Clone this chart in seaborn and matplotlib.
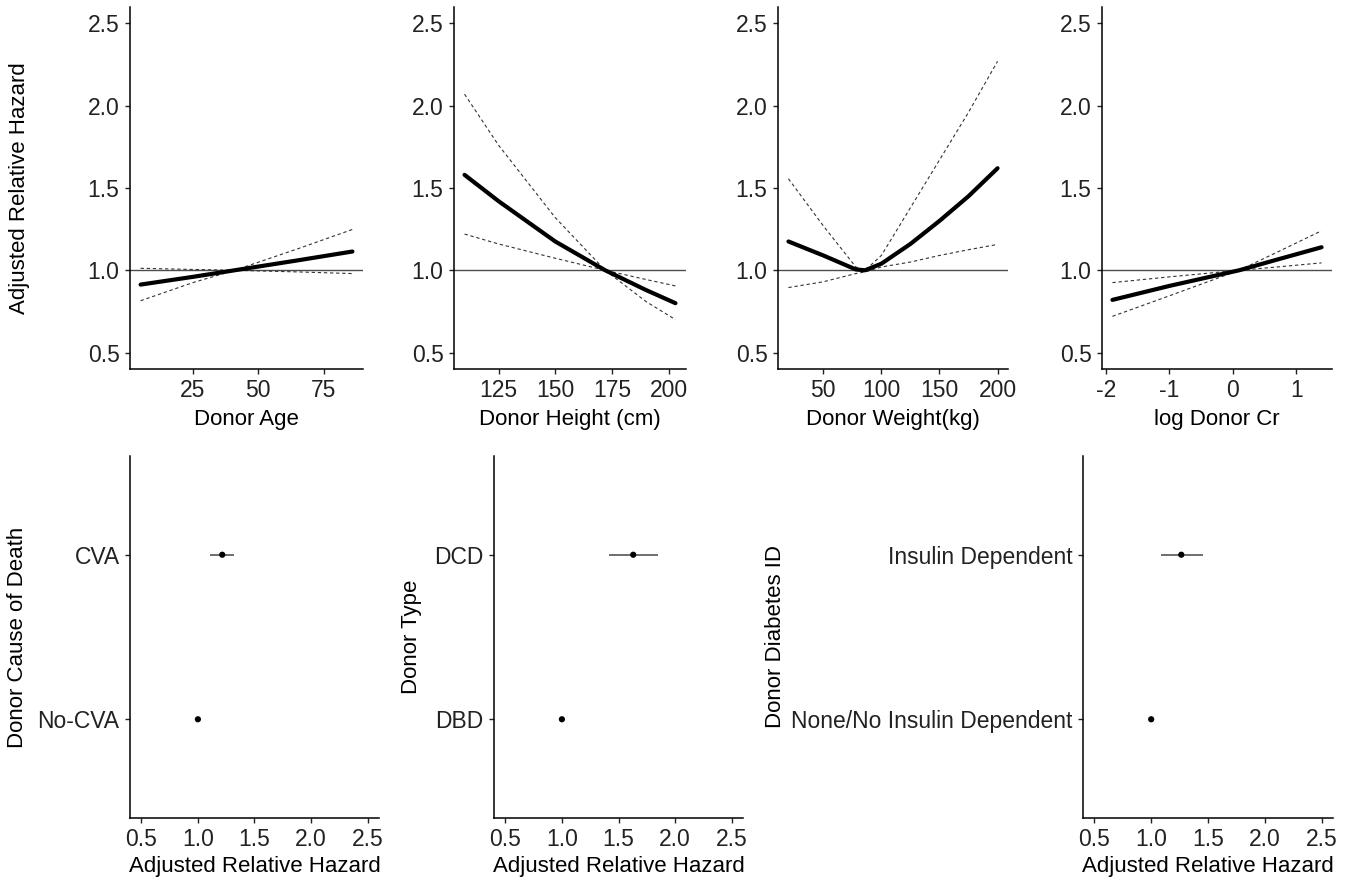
import numpy as np
import pandas as pd
import matplotlib
matplotlib.use("Agg")
import matplotlib.pyplot as plt
import seaborn as sns

# spline curves (hazard ratio with two dashed confidence lines)
age_x = [5, 25, 41, 65, 86]
age_hr = [0.913, 0.96, 1.0, 1.06, 1.114]
age_ci_a = [0.815, 0.925, 1.0, 1.13, 1.248]
age_ci_b = [1.012, 1.005, 1.0, 0.99, 0.98]

height_x = [110, 125, 150, 172, 190, 203]
height_hr = [1.58, 1.42, 1.175, 1.0, 0.88, 0.80]
height_ci_a = [2.07, 1.76, 1.32, 1.0, 0.81, 0.70]
height_ci_b = [1.22, 1.16, 1.073, 1.0, 0.944, 0.905]

weight_x = [20, 50, 78, 86, 100, 125, 150, 175, 200]
weight_hr = [1.175, 1.09, 1.005, 1.0, 1.04, 1.16, 1.30, 1.45, 1.62]
weight_ci_a = [1.556, 1.27, 1.02, 1.0, 1.09, 1.38, 1.67, 1.96, 2.27]
weight_ci_b = [0.895, 0.93, 0.98, 0.99, 1.02, 1.05, 1.09, 1.125, 1.157]

cr_x = [-1.9, -1.0, 0.1, 0.7, 1.4]
cr_hr = [0.82, 0.905, 1.0, 1.065, 1.14]
cr_ci_a = [0.72, 0.845, 1.0, 1.11, 1.24]
cr_ci_b = [0.925, 0.96, 1.0, 1.02, 1.045]

# categorical effects (reference level first)
cod_levels = ["No-CVA", "CVA"]
cod_hr = [1.0, 1.215]
cod_lo = [1.0, 1.11]
cod_hi = [1.0, 1.32]

type_levels = ["DBD", "DCD"]
type_hr = [1.0, 1.63]
type_lo = [1.0, 1.42]
type_hi = [1.0, 1.85]

diab_levels = ["None/No Insulin Dependent", "Insulin Dependent"]
diab_hr = [1.0, 1.265]
diab_lo = [1.0, 1.09]
diab_hi = [1.0, 1.46]

sns.set_theme(style="ticks")
plt.rcParams['font.family'] = ['Liberation Sans', 'DejaVu Sans']
plt.rcParams['axes.unicode_minus'] = False
plt.rcParams['axes.linewidth'] = 1.1
plt.rcParams['xtick.major.width'] = 1.0
plt.rcParams['ytick.major.width'] = 1.0
plt.rcParams['xtick.major.size'] = 3.5
plt.rcParams['ytick.major.size'] = 3.5

W, H = 1352, 881
fig = plt.figure(figsize=(W / 100, H / 100), dpi=100)

TICK_FS = 16.5
TITLE_FS = 16


def add_ax(l, r, t, b):
    return fig.add_axes([l / W, 1 - b / H, (r - l) / W, (b - t) / H])


def style_ax(ax):
    sns.despine(ax=ax)
    ax.tick_params(labelsize=TICK_FS, colors='#222222', labelcolor='#222222', pad=4)
    ax.spines['left'].set_color('black')
    ax.spines['bottom'].set_color('black')


top_panels = [
    (130, 363, age_x, age_hr, age_ci_a, age_ci_b, "Donor Age", [25, 50, 75]),
    (454, 686, height_x, height_hr, height_ci_a, height_ci_b, "Donor Height (cm)", [125, 150, 175, 200]),
    (778, 1008, weight_x, weight_hr, weight_ci_a, weight_ci_b, "Donor Weight(kg)", [50, 100, 150, 200]),
    (1102, 1332, cr_x, cr_hr, cr_ci_a, cr_ci_b, "log Donor Cr", [-2, -1, 0, 1]),
]

for i, (l, r, x, hr, ca, cb, xlab, xt) in enumerate(top_panels):
    ax = add_ax(l, r, 7, 369)
    ax.axhline(1.0, color='#4d4d4d', lw=1.0, zorder=1)
    for ci in (ca, cb):
        sns.lineplot(x=x, y=ci, ax=ax, color='#333333', lw=0.8,
                     linestyle=(0, (3, 2.5)), zorder=2)
    sns.lineplot(x=x, y=hr, ax=ax, color='black', lw=3, zorder=3)
    span = max(x) - min(x)
    ax.set_xlim(min(x) - 0.05 * span, max(x) + 0.05 * span)
    ax.set_ylim(0.4, 2.6)
    ax.set_xticks(xt)
    ax.set_yticks([0.5, 1.0, 1.5, 2.0, 2.5])
    ax.set_yticklabels(["0.5", "1.0", "1.5", "2.0", "2.5"])
    ax.set_xlabel(xlab, fontsize=TITLE_FS, color='black', labelpad=5)
    if i == 0:
        ax.set_ylabel("Adjusted Relative Hazard", fontsize=TITLE_FS, color='black')
        ax.yaxis.set_label_coords(-0.429, 0.5)
    else:
        ax.set_ylabel("")
    style_ax(ax)

bottom_panels = [
    (130, 379, cod_levels, cod_hr, cod_lo, cod_hi, "Donor Cause of Death", -0.41),
    (494, 743, type_levels, type_hr, type_lo, type_hi, "Donor Type", -0.289),
    (1083, 1333, diab_levels, diab_hr, diab_lo, diab_hi, "Donor Diabetes ID", -1.188),
]

for l, r, levels, hr, lo, hi, ylab, ylx in bottom_panels:
    ax = add_ax(l, r, 456, 818)
    df = pd.DataFrame({"level": levels, "hr": hr, "lo": lo, "hi": hi})
    ax.hlines(df["level"], df["lo"], df["hi"], color='#555555', lw=1.2, zorder=2)
    sns.scatterplot(data=df, x="hr", y="level", ax=ax, color='black', s=20,
                    edgecolor='none', zorder=3)
    ax.set_xlim(0.4, 2.6)
    ax.set_ylim(-0.6, 1.6)
    ax.set_xticks([0.5, 1.0, 1.5, 2.0, 2.5])
    ax.set_xticklabels(["0.5", "1.0", "1.5", "2.0", "2.5"])
    ax.set_xlabel("Adjusted Relative Hazard", fontsize=TITLE_FS, color='black', labelpad=3)
    ax.set_ylabel(ylab, fontsize=TITLE_FS, color='black')
    ax.yaxis.set_label_coords(ylx, 0.5)
    style_ax(ax)

fig.savefig("out.png", dpi=100, facecolor='white')
